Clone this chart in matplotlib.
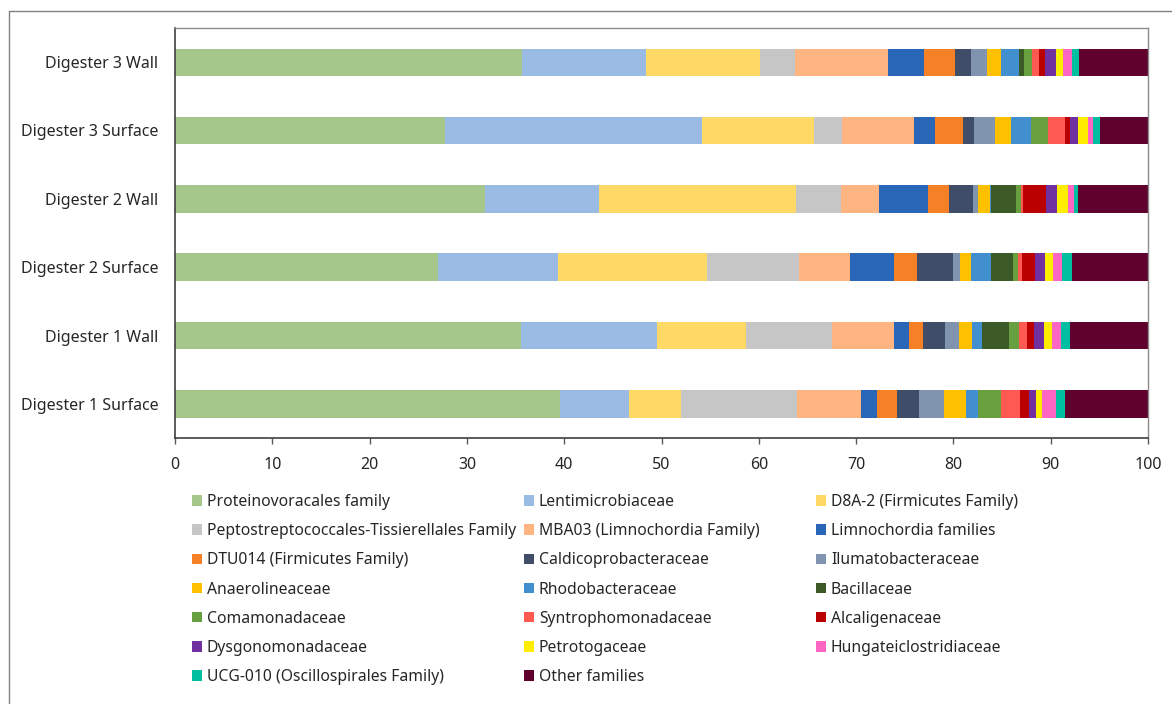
import numpy as np
import matplotlib
matplotlib.use('Agg')
import matplotlib.pyplot as plt
from matplotlib.patches import Patch
from matplotlib.lines import Line2D

plt.rcParams['font.family'] = ['Noto Sans', 'DejaVu Sans']

samples = ['Digester 1 Surface', 'Digester 1 Wall', 'Digester 2 Surface',
           'Digester 2 Wall', 'Digester 3 Surface', 'Digester 3 Wall']

families = ['Proteinovoracales family', 'Lentimicrobiaceae', 'D8A-2 (Firmicutes Family)',
            'Peptostreptococcales-Tissierellales Family', 'MBA03 (Limnochordia Family)',
            'Limnochordia families', 'DTU014 (Firmicutes Family)', 'Caldicoprobacteraceae',
            'Ilumatobacteraceae', 'Anaerolineaceae', 'Rhodobacteraceae', 'Bacillaceae',
            'Comamonadaceae', 'Syntrophomonadaceae', 'Alcaligenaceae', 'Dysgonomonadaceae',
            'Petrotogaceae', 'Hungateiclostridiaceae', 'UCG-010 (Oscillospirales Family)',
            'Other families']

colors = ['#A5C78C', '#9ABCE4', '#FFD966', '#C6C6C6', '#FFB482', '#2966B8', '#F58025',
          '#3F4D68', '#8094B0', '#FFC000', '#418FCF', '#3C5A26', '#68A040', '#FF5A52',
          '#BA0000', '#7030A0', '#FFED00', '#FF66C4', '#00BFA0', '#60002C']

# relative abundance (%) per family, one list per sample (same order as samples)
d1_surface = [39.6, 7.1, 5.3, 11.9, 6.6, 1.6, 2.1, 2.3, 2.5, 2.3, 1.2, 0.0, 2.4, 1.9, 1.0, 0.7, 0.6, 1.4, 1.0, 8.5]
d1_wall = [35.6, 13.9, 9.2, 8.8, 6.4, 1.5, 1.5, 2.2, 1.5, 1.3, 1.0, 2.8, 1.0, 0.9, 0.7, 1.0, 0.8, 1.0, 0.9, 8.0]
d2_surface = [27.0, 12.4, 15.3, 9.4, 5.3, 4.5, 2.4, 3.7, 0.7, 1.1, 2.1, 2.2, 0.5, 0.4, 1.4, 1.0, 0.8, 1.0, 1.0, 7.8]
d2_wall = [31.9, 11.7, 20.2, 4.6, 4.0, 5.0, 2.1, 2.5, 0.5, 1.3, 0.1, 2.5, 0.5, 0.3, 2.3, 1.1, 1.2, 0.6, 0.4, 7.3]
d3_surface = [27.8, 26.4, 11.5, 2.9, 7.3, 2.2, 2.9, 1.1, 2.2, 1.6, 2.1, 0.0, 1.7, 1.8, 0.5, 0.8, 1.0, 0.5, 0.8, 4.9]
d3_wall = [35.7, 12.7, 11.7, 3.6, 9.6, 3.7, 3.2, 1.6, 1.7, 1.4, 1.8, 0.6, 0.8, 0.7, 0.6, 1.1, 0.8, 0.9, 0.7, 7.1]

data = np.array([d1_surface, d1_wall, d2_surface, d2_wall, d3_surface, d3_wall])

W, H = 1172, 704
fig = plt.figure(figsize=(W / 100, H / 100), dpi=100)
ax = fig.add_axes([175 / W, 1 - 438 / H, (1148 - 175) / W, (438 - 28) / H])

y = np.arange(len(samples))
left = np.zeros(len(samples))
for j, fam in enumerate(families):
    ax.barh(y, data[:, j], left=left, height=0.4, color=colors[j],
            edgecolor='none', label=fam)
    left += data[:, j]

ax.set_xlim(0, 100)
ax.set_ylim(-0.5, 5.5)
ax.set_xticks(np.arange(0, 101, 10))
ax.set_yticks(y)
ax.set_yticklabels(samples)
ax.tick_params(axis='x', direction='out', length=4.5, width=1, color='#595959',
               labelsize=11.5, pad=9, labelcolor='#262626')
ax.tick_params(axis='y', length=0, labelsize=11.5, pad=12, labelcolor='#262626')

for side in ['left', 'bottom']:
    ax.spines[side].set_color('#404040')
    ax.spines[side].set_linewidth(1.2)
for side in ['top', 'right']:
    ax.spines[side].set_color('#8C8C8C')
    ax.spines[side].set_linewidth(1.0)

# legend, filled row by row in three columns
handles = [Patch(facecolor=c, edgecolor='none') for c in colors]
col_x = [192, 524, 816]
for k in range(3):
    idx = list(range(k, len(families), 3))
    fig.legend([handles[i] for i in idx], [families[i] for i in idx],
               loc='upper left', bbox_to_anchor=(col_x[k] / W, 1 - 494 / H),
               frameon=False, fontsize=11.3, handlelength=0.65, handleheight=0.65,
               handletextpad=0.3, labelspacing=0.84, borderpad=0, borderaxespad=0,
               labelcolor='#262626')

# outer frame
fig.add_artist(Line2D([9 / W, 9 / W, 1.0], [0.0, 1 - 11 / H, 1 - 11 / H],
                      transform=fig.transFigure, color='#808080', lw=1.0))

fig.savefig('out.png', dpi=100)
